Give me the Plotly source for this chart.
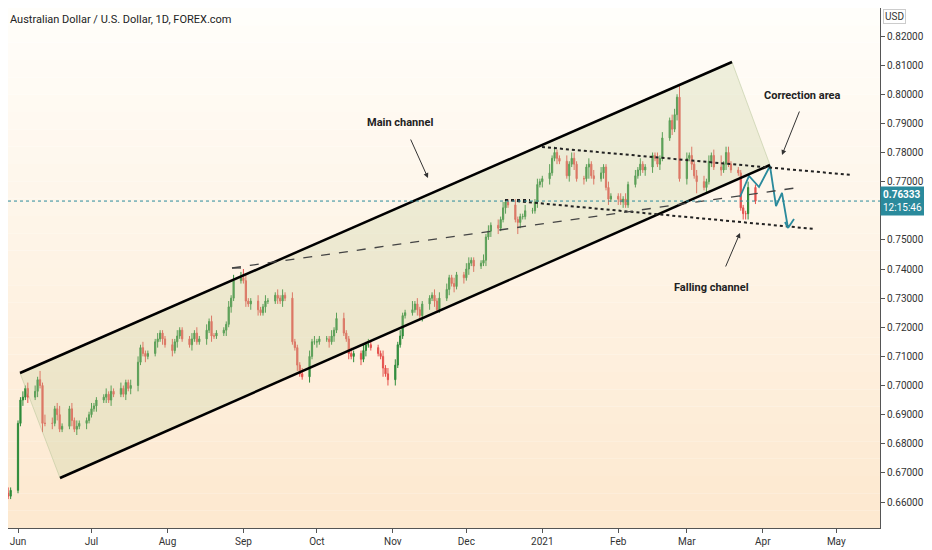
import numpy as np
import pandas as pd
import plotly.graph_objects as go

# daily closes (x1e-4), one row per week, starting Mon 2020-05-25
closes = [
    [6560, 6600, 6630, 6620, 6640],
    [6870, 6950, 6960, 6990, 6960],
    [6980, 7020, 7000, 6870, 6870],
    [6870, 6920, 6900, 6850, 6860],
    [6920, 6880, 6850, 6860, 6870],
    [6880, 6900, 6920, 6930, 6950],
    [6960, 6970, 6950, 6980, 6970],
    [6990, 6970, 7010, 6990, 7000],
    [7080, 7130, 7110, 7100, 7110],
    [7150, 7160, 7180, 7160, 7140],
    [7120, 7150, 7170, 7190, 7160],
    [7140, 7160, 7180, 7150, 7160],
    [7190, 7220, 7170, 7170, 7180],
    [7190, 7210, 7270, 7300, 7360],
    [7370, 7360, 7290, 7280, 7290],
    [7260, 7250, 7270, 7290, 7290],
    [7310, 7300, 7290, 7310, 7300],
    [7150, 7130, 7070, 7040, 7030],
    [7100, 7150, 7150, 7150, 7160],
    [7160, 7150, 7170, 7190, 7230],
    [7180, 7160, 7110, 7100, 7110],
    [7090, 7120, 7140, 7140, 7130],
    [7110, 7100, 7060, 7040, 7020],
    [7070, 7140, 7170, 7240, 7250],
    [7260, 7280, 7260, 7240, 7280],
    [7300, 7310, 7290, 7260, 7300],
    [7330, 7370, 7350, 7340, 7380],
    [7370, 7400, 7420, 7430, 7410],
    [7420, 7430, 7510, 7530, 7550],
    [7540, 7570, 7610, 7630, 7620],
    [7570, 7560, 7580, 7580, 7600],
    [7600, 7630, 7690, 7700, 7710],
    [7730, 7780, 7800, 7780, 7770],
    [7720, 7760, 7780, 7760, 7710],
    [7710, 7750, 7760, 7720, 7710],
    [7730, 7750, 7680, 7640, 7650],
    [7640, 7630, 7640, 7620, 7690],
    [7720, 7740, 7760, 7740, 7750],
    [7790, 7780, 7760, 7780, 7850],
    [7910, 7880, 7930, 7990, 7710],
    [7780, 7790, 7760, 7720, 7700],
    [7680, 7700, 7770, 7790, 7750],
    [7740, 7760, 7800, 7760, 7740],
    [7730, 7610, 7590, 7590, 7680],
    [7633],
]
# upper / lower wick length per candle, in units of 10 pips
up_wicks = ["32121", "11212", "21313", "21231", "12121", "11211", "12121", "21112", "21211",
            "12111", "21211", "12121", "21211", "11212", "23211", "21121", "12121", "21112",
            "21211", "11212", "21121", "12121", "11212", "21211", "31211", "11212", "21121",
            "12211", "12121", "21211", "21112", "11211", "31211", "21221", "11212", "21121",
            "12121", "21211", "11212", "12214", "21312", "21212", "41221", "11112", "1"]
lo_wicks = ["21211", "11212", "12131", "21211", "12121", "21112", "12121", "11212", "21121",
            "12121", "21211", "12111", "21211", "12121", "11212", "21121", "12121", "11211",
            "21121", "12121", "11212", "21211", "11312", "21111", "11212", "21211", "12121",
            "21212", "11212", "21121", "14211", "11212", "21121", "12121", "21412", "12121",
            "21211", "11212", "21121", "12121", "21214", "12121", "21211", "11222", "1"]

close = np.array([c for w in closes for c in w]) / 1e4
up = np.array([int(d) for w in up_wicks for d in w]) / 1e3
lo = np.array([int(d) for w in lo_wicks for d in w]) / 1e3
dates = pd.bdate_range("2020-05-25", periods=len(close))
opn = np.concatenate([[0.6590], close[:-1]])
high = np.maximum(opn, close) + up
low = np.minimum(opn, close) - lo

y_ticks = [0.66, 0.67, 0.68, 0.69, 0.70, 0.71, 0.72, 0.73, 0.74, 0.75,
           0.77, 0.78, 0.79, 0.80, 0.81, 0.82, 0.83]
month_ticks = ["2020-06-01", "2020-07-01", "2020-08-01", "2020-09-01", "2020-10-01", "2020-11-01",
               "2020-12-01", "2021-01-01", "2021-02-01", "2021-03-01", "2021-04-01", "2021-05-01"]
month_text = ["Jun", "Jul", "Aug", "Sep", "Oct", "Nov", "Dec", "2021", "Feb", "Mar", "Apr", "May"]
last_price = 0.76333


def pt(x, y):
    # drawing position from window pixels
    d = pd.Timestamp("2020-06-01") + pd.Timedelta(days=(x - 18) / 2.45)
    return d, 0.82 - (y - 36) / 2912.5


fig = go.Figure()

# background gradient
n = 30
for i in range(n):
    t = i / (n - 1)
    r, g, b = 253 + 2 * t, int(233 + 21 * t), int(208 + 42 * t)
    fig.add_shape(type="rect", xref="paper", yref="paper", x0=0, x1=1, y0=i / n, y1=(i + 1) / n,
                  fillcolor=f"rgb({r},{g},{b})", line_width=0, layer="below")

# main channel shading
p = [pt(20, 373), pt(732, 62), pt(770, 165), pt(60, 478)]
fig.add_trace(go.Scatter(x=[q[0] for q in p] + [p[0][0]], y=[q[1] for q in p] + [p[0][1]],
                         fill="toself", fillcolor="rgba(200,210,160,0.30)",
                         line=dict(color="rgba(180,195,150,0.5)", width=1), mode="lines",
                         hoverinfo="skip", showlegend=False))

fig.add_trace(go.Candlestick(x=dates, open=opn, high=high, low=low, close=close,
                             increasing=dict(line=dict(color="#2e8b3a", width=1), fillcolor="#2e8b3a"),
                             decreasing=dict(line=dict(color="#e5524e", width=1), fillcolor="#e5524e"),
                             whiskerwidth=0, showlegend=False))


def seg(a, b, **line):
    (x0, y0), (x1, y1) = pt(*a), pt(*b)
    fig.add_shape(type="line", x0=x0, y0=y0, x1=x1, y1=y1, line=line)


seg((20, 373), (732, 62), color="black", width=2.5)
seg((60, 478), (770, 165), color="black", width=2.5)
seg((542, 147), (852, 175), color="#222", width=2, dash="dot")
seg((505, 200), (815, 229), color="#222", width=2, dash="dot")
seg((232, 268), (795, 188), color="#444", width=1.3, dash="dash")
seg((232, 268), (245, 268), color="#444", width=1.3, dash="dash")
seg((505, 200), (530, 200), color="#222", width=2, dash="dot")

# projected path
path = [(740, 197), (749, 176), (759, 187), (770, 166), (776, 206), (782, 193), (788, 228)]
pp = [pt(*q) for q in path]
fig.add_trace(go.Scatter(x=[q[0] for q in pp], y=[q[1] for q in pp], mode="lines",
                         line=dict(color="#2a8a9c", width=1.8), hoverinfo="skip", showlegend=False))
seg((785, 222), (788, 228), color="#2a8a9c", width=1.8)
seg((788, 228), (794, 219), color="#2a8a9c", width=1.8)

# last price line
fig.add_hline(y=last_price, line=dict(color="#2a8a9c", width=1, dash="dot"))

notes = [("Main channel", 400, 122, 428, 178, 410, 138),
         ("Correction area", 802, 95, 782, 155, 800, 110),
         ("Falling channel", 711, 287, 740, 233, 725, 268)]
for txt, tx, ty, hx, hy, sx, sy in notes:
    a, b = pt(tx, ty)
    fig.add_annotation(x=a, y=b, text=f"<b>{txt}</b>", showarrow=False,
                       font=dict(family="Roboto", size=11, color="#222"))
    h, s = pt(hx, hy), pt(sx, sy)
    fig.add_annotation(x=h[0], y=h[1], ax=s[0], ay=s[1], axref="x", ayref="y", text="",
                       showarrow=True, arrowhead=2, arrowsize=1, arrowwidth=1, arrowcolor="#333")

fig.add_annotation(x=0.0, y=0.995, xref="paper", yref="paper", xanchor="left", yanchor="top",
                   text="Australian Dollar / U.S. Dollar, 1D, FOREX.com", showarrow=False,
                   font=dict(family="Roboto", size=11, color="#222"))
fig.add_annotation(x=1.0, y=last_price, xref="paper", yref="y", xanchor="left",
                   text=f"<b>{last_price:.5f}</b><br>12:15:46", showarrow=False, align="left",
                   bgcolor="#2a8a9c", font=dict(family="Roboto", size=10, color="white"),
                   borderpad=2)
fig.add_annotation(x=1.03, y=0.998, xref="paper", yref="paper", yanchor="top", text="USD",
                   showarrow=False, bgcolor="white", bordercolor="#ccc", borderwidth=1,
                   font=dict(family="Roboto", size=10, color="#333"))

# page has an 8px offset, so the figure spans window px 8..932 x 8..550
x0, ytop = pt(8, 8)
x1, ybot = pt(880, 528)
fig.update_layout(
    width=924, height=542, margin=dict(l=0, r=52, t=0, b=22),
    paper_bgcolor="white", plot_bgcolor="rgba(0,0,0,0)",
    font=dict(family="Roboto", size=10, color="#333"),
    xaxis=dict(range=[x0, x1], tickvals=month_ticks, ticktext=month_text, showgrid=False,
               rangeslider=dict(visible=False), ticks="outside", ticklen=4, tickcolor="#555",
               showline=True, linecolor="#555"),
    yaxis=dict(side="right", range=[ybot, ytop], tickvals=y_ticks, tickformat=".5f",
               showgrid=False, ticks="outside", ticklen=4, tickcolor="#555",
               showline=True, linecolor="#555"),
)

fig.write_html("out.html")
